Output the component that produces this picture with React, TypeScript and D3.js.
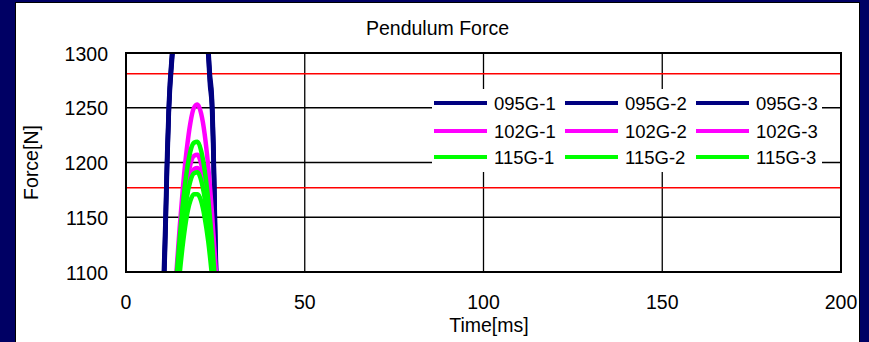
import React from "react";
import * as d3 from "d3";

// Time grid (ms) for the heavy 095G pendulum runs
const heavyTime = [8, 9, 10, 10.5, 11, 11.5, 12, 13, 14, 16, 18, 20, 22, 23, 23.5, 24, 24.5, 25, 25.5, 26, 27];
const force095G1 = [900, 960, 1040, 1080, 1135, 1200, 1250, 1302, 1335, 1368, 1378, 1370, 1335, 1302, 1275, 1258, 1205, 1125, 1060, 1020, 940];
const force095G2 = [910, 970, 1050, 1092, 1145, 1208, 1255, 1305, 1340, 1372, 1382, 1374, 1340, 1306, 1280, 1262, 1212, 1130, 1068, 1025, 945];
const force095G3 = [895, 955, 1032, 1072, 1128, 1194, 1246, 1298, 1332, 1365, 1375, 1366, 1330, 1298, 1270, 1252, 1198, 1118, 1054, 1012, 935];

// Time grid (ms) for the 102G and 115G runs
const pulseTime = [12, 13, 14, 15, 16, 17, 18, 19, 20, 21, 22, 23, 24, 25, 26, 27, 28];
const force102G1 = [1010, 1050, 1095, 1140, 1180, 1212, 1236, 1250, 1253, 1245, 1226, 1196, 1156, 1108, 1055, 1000, 945];
const force102G2 = [1000, 1040, 1080, 1118, 1152, 1180, 1198, 1206, 1207, 1199, 1182, 1156, 1122, 1082, 1040, 995, 950];
const force102G3 = [995, 1035, 1076, 1112, 1145, 1170, 1186, 1194, 1195, 1188, 1172, 1148, 1116, 1078, 1036, 992, 948];
const force115G1 = [1000, 1045, 1090, 1130, 1165, 1192, 1210, 1218, 1219, 1211, 1193, 1166, 1130, 1088, 1042, 995, 950];
const force115G2 = [990, 1030, 1072, 1110, 1143, 1168, 1183, 1190, 1191, 1184, 1168, 1144, 1112, 1074, 1032, 990, 945];
const force115G3 = [985, 1022, 1062, 1098, 1128, 1151, 1165, 1171, 1171, 1165, 1150, 1128, 1098, 1062, 1022, 982, 940];

const seriesNames = ["095G-1", "095G-2", "095G-3", "102G-1", "102G-2", "102G-3", "115G-1", "115G-2", "115G-3"];
const seriesColors = ["#000080", "#000080", "#000080", "#ff00ff", "#ff00ff", "#ff00ff", "#00ff00", "#00ff00", "#00ff00"];
const seriesTimes = [heavyTime, heavyTime, heavyTime, pulseTime, pulseTime, pulseTime, pulseTime, pulseTime, pulseTime];
const seriesForces = [force095G1, force095G2, force095G3, force102G1, force102G2, force102G3, force115G1, force115G2, force115G3];

// Limit lines (N)
const limitLines = [1281, 1177];

const xTicks = [0, 50, 100, 150, 200];
const yTicks = [1100, 1150, 1200, 1250, 1300];

const W = 869;
const H = 342;
const plot = { left: 126, top: 53, right: 841, bottom: 272 };
const FONT = "'Liberation Sans', Arial, sans-serif";

export default function App() {
  const x = d3.scaleLinear().domain([0, 200]).range([plot.left, plot.right]);
  const y = d3.scaleLinear().domain([1100, 1300]).range([plot.bottom, plot.top]);

  const line = d3
    .line<[number, number]>()
    .x((d) => x(d[0]))
    .y((d) => y(d[1]))
    .curve(d3.curveMonotoneX);

  const legendX0 = 434;
  const legendColW = 131;
  const legendRowY = [103, 131, 157];

  return (
    <svg
      width={W}
      height={H}
      style={{ position: "fixed", left: 0, top: 0, display: "block" }}
      fontFamily={FONT}
    >
      <defs>
        <clipPath id="plotClip">
          <rect x={plot.left} y={plot.top} width={plot.right - plot.left} height={plot.bottom - plot.top} />
        </clipPath>
      </defs>
      <rect x={0} y={0} width={W} height={H} fill="#000064" />
      <rect x={15.5} y={2.5} width={844} height={H + 10} fill="#ffffff" stroke="#000000" strokeWidth={1} />

      {/* title */}
      <text x={437.5} y={35} textAnchor="middle" fontSize={19.5} fill="#000">
        Pendulum Force
      </text>

      {/* grid */}
      {yTicks.slice(1, -1).map((v) => (
        <line key={"gy" + v} x1={plot.left} x2={plot.right} y1={y(v)} y2={y(v)} stroke="#000" strokeWidth={1.3} />
      ))}
      {xTicks.slice(1, -1).map((v) => (
        <line key={"gx" + v} x1={x(v)} x2={x(v)} y1={plot.top} y2={plot.bottom} stroke="#000" strokeWidth={1.3} />
      ))}

      {/* limit lines */}
      {limitLines.map((v) => (
        <line key={"lim" + v} x1={plot.left} x2={plot.right} y1={y(v)} y2={y(v)} stroke="#ff0000" strokeWidth={1.5} />
      ))}

      {/* series */}
      <g clipPath="url(#plotClip)">
        {seriesNames.map((name, i) => {
          const pts = seriesTimes[i].map((t, j) => [t, seriesForces[i][j]] as [number, number]);
          return (
            <path
              key={name}
              d={line(pts) || ""}
              fill="none"
              stroke={seriesColors[i]}
              strokeWidth={i < 3 ? 4.5 : 4.5}
              strokeLinejoin="round"
            />
          );
        })}
      </g>

      {/* plot border */}
      <rect
        x={plot.left}
        y={plot.top}
        width={plot.right - plot.left}
        height={plot.bottom - plot.top}
        fill="none"
        stroke="#000"
        strokeWidth={2}
      />

      {/* legend */}
      <rect x={432} y={89} width={390} height={83} fill="#ffffff" />
      {seriesNames.map((name, i) => {
        const col = i % 3;
        const row = Math.floor(i / 3);
        const lx = legendX0 + col * legendColW;
        const ly = legendRowY[row];
        return (
          <g key={"leg" + name}>
            <line x1={lx} x2={lx + 53} y1={ly} y2={ly} stroke={seriesColors[i]} strokeWidth={4} />
            <text x={lx + 60} y={ly + 7} fontSize={18.5} fill="#000">
              {name}
            </text>
          </g>
        );
      })}

      {/* y axis labels */}
      {yTicks.map((v) => (
        <text key={"yt" + v} x={108} y={y(v) + 7.5} textAnchor="end" fontSize={19.5} fill="#000">
          {v}
        </text>
      ))}
      {/* x axis labels */}
      {xTicks.map((v) => (
        <text key={"xt" + v} x={x(v)} y={309} textAnchor="middle" fontSize={19.5} fill="#000">
          {v}
        </text>
      ))}

      <text x={489} y={332} textAnchor="middle" fontSize={19.5} fill="#000">
        Time[ms]
      </text>
      <text
        transform={`translate(38, ${(plot.top + plot.bottom) / 2}) rotate(-90)`}
        textAnchor="middle"
        fontSize={19.5}
        fill="#000"
      >
        Force[N]
      </text>
    </svg>
  );
}
